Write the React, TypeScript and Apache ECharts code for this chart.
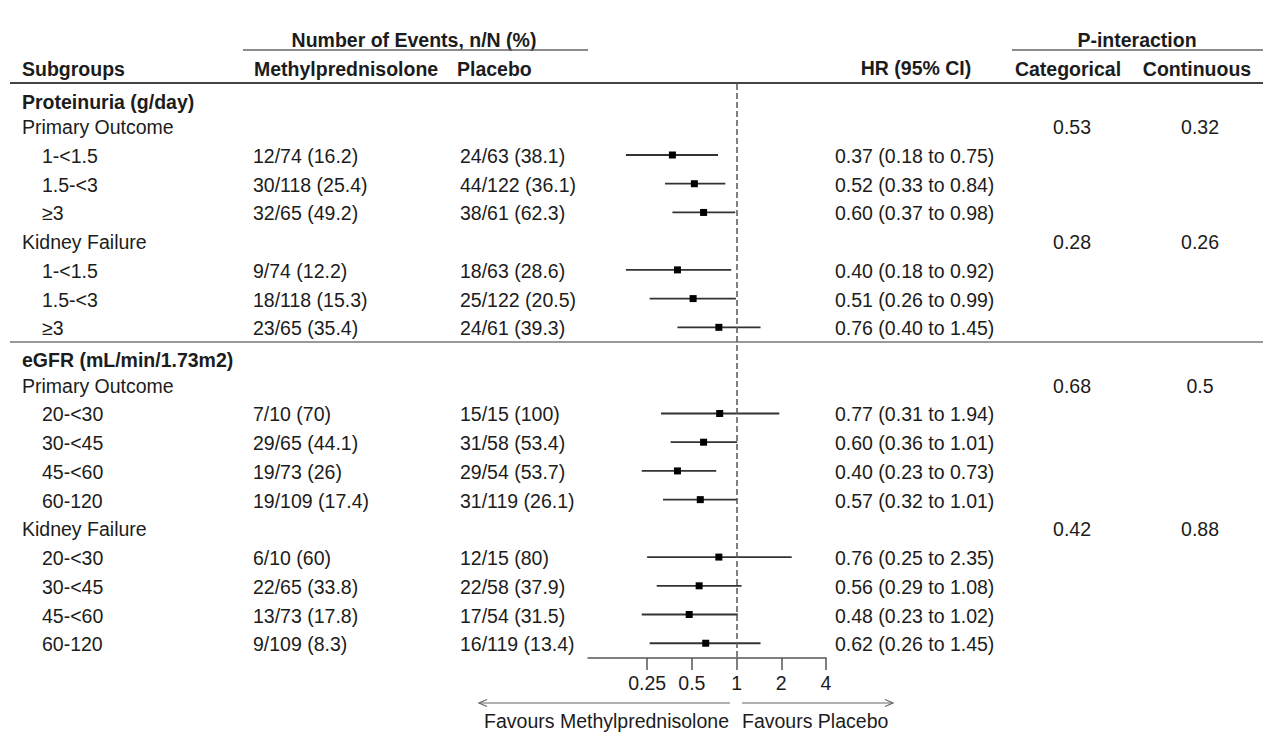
import React, { useEffect, useRef } from "react";
import * as echarts from "echarts";

const rowLabels = [
  "Proteinuria (g/day)", "Primary Outcome", "1-<1.5", "1.5-<3", "≥3",
  "Kidney Failure", "1-<1.5", "1.5-<3", "≥3",
  "eGFR (mL/min/1.73m2)", "Primary Outcome", "20-<30", "30-<45", "45-<60", "60-120",
  "Kidney Failure", "20-<30", "30-<45", "45-<60", "60-120",
];
const rowLevel = [0, 1, 2, 2, 2, 1, 2, 2, 2, 0, 1, 2, 2, 2, 2, 1, 2, 2, 2, 2];
const methylEvents = [
  "", "", "12/74 (16.2)", "30/118 (25.4)", "32/65 (49.2)",
  "", "9/74 (12.2)", "18/118 (15.3)", "23/65 (35.4)",
  "", "", "7/10 (70)", "29/65 (44.1)", "19/73 (26)", "19/109 (17.4)",
  "", "6/10 (60)", "22/65 (33.8)", "13/73 (17.8)", "9/109 (8.3)",
];
const placeboEvents = [
  "", "", "24/63 (38.1)", "44/122 (36.1)", "38/61 (62.3)",
  "", "18/63 (28.6)", "25/122 (20.5)", "24/61 (39.3)",
  "", "", "15/15 (100)", "31/58 (53.4)", "29/54 (53.7)", "31/119 (26.1)",
  "", "12/15 (80)", "22/58 (37.9)", "17/54 (31.5)", "16/119 (13.4)",
];
const hr = [null, null, 0.37, 0.52, 0.6, null, 0.4, 0.51, 0.76, null, null, 0.77, 0.6, 0.4, 0.57, null, 0.76, 0.56, 0.48, 0.62];
const ciLow = [null, null, 0.18, 0.33, 0.37, null, 0.18, 0.26, 0.4, null, null, 0.31, 0.36, 0.23, 0.32, null, 0.25, 0.29, 0.23, 0.26];
const ciHigh = [null, null, 0.75, 0.84, 0.98, null, 0.92, 0.99, 1.45, null, null, 1.94, 1.01, 0.73, 1.01, null, 2.35, 1.08, 1.02, 1.45];
const pCategorical = ["", "0.53", "", "", "", "0.28", "", "", "", "", "0.68", "", "", "", "", "0.42", "", "", "", ""];
const pContinuous = ["", "0.32", "", "", "", "0.26", "", "", "", "", "0.5", "", "", "", "", "0.88", "", "", "", ""];
const tickValues = [0.25, 0.5, 1, 2, 4];
const axisMin = 0.1;
const axisMax = 4;

const FONT = '"Liberation Sans", Arial, Helvetica, sans-serif';
const FS = 19.5;
const TXT = "#1c1c1c";

// layout
const ROW0 = 97.56;
const ROWH = 28.72;
const GRID_TOP = 84;
const GRID_BOTTOM = 658;
const GRID_LEFT = 588;
const GRID_RIGHT_X = 826;

const rowY = (r: number) => ROW0 + r * ROWH;

export default function App() {
  const ref = useRef<HTMLDivElement>(null);
  useEffect(() => {
    if (!ref.current) return;
    const chart = echarts.init(ref.current, null, { renderer: "svg" });
    const log2 = (v: number) => Math.log(v) / Math.LN2;

    const text = (x: number, y: number, s: string, opts: any = {}) => ({
      type: "text",
      x,
      y,
      silent: true,
      style: {
        text: s,
        fill: TXT,
        font: `${opts.bold ? "bold " : ""}${FS}px ${FONT}`,
        align: opts.align || "left",
        verticalAlign: "middle",
      },
    });
    const hline = (x1: number, x2: number, y: number, color: string, w: number) => ({
      type: "line",
      silent: true,
      shape: { x1, y1: y, x2, y2: y },
      style: { stroke: color, lineWidth: w },
    });

    const g: any[] = [];
    // headers
    g.push(text(414, 40, "Number of Events, n/N (%)", { bold: true, align: "center" }));
    g.push(hline(243, 588, 50, "#666", 1.5));
    g.push(text(1137, 39.5, "P-interaction", { bold: true, align: "center" }));
    g.push(hline(1012, 1263, 50, "#666", 1.5));
    g.push(text(22, 68.5, "Subgroups", { bold: true }));
    g.push(text(254, 68.5, "Methylprednisolone", { bold: true }));
    g.push(text(457, 68.5, "Placebo", { bold: true }));
    g.push(text(916, 67.5, "HR (95% CI)", { bold: true, align: "center" }));
    g.push(text(1068, 68.5, "Categorical", { bold: true, align: "center" }));
    g.push(text(1197, 68.5, "Continuous", { bold: true, align: "center" }));
    g.push(hline(10, 1263, 83, "#444", 2));
    g.push(hline(10, 1263, 342, "#777", 1.5));

    rowLabels.forEach((lab, r) => {
      const lvl = rowLevel[r];
      const y = rowY(r) + (lvl === 0 ? 4 : 1);
      g.push(text(lvl === 2 ? 42 : 22, y, lab, { bold: lvl === 0 }));
      if (methylEvents[r]) g.push(text(253, y, methylEvents[r]));
      if (placeboEvents[r]) g.push(text(460, y, placeboEvents[r]));
      if (hr[r] != null) {
        g.push(
          text(835, y, `${(hr[r] as number).toFixed(2)} (${(ciLow[r] as number).toFixed(2)} to ${(ciHigh[r] as number).toFixed(2)})`)
        );
      }
      if (pCategorical[r]) g.push(text(1072, y, pCategorical[r], { align: "center" }));
      if (pContinuous[r]) g.push(text(1200, y, pContinuous[r], { align: "center" }));
    });

    // arrows + favours labels
    const AY = 703;
    g.push(hline(479, 730, AY, "#666", 1.2));
    g.push({
      type: "polyline",
      silent: true,
      shape: { points: [[487, AY - 3.5], [479, AY], [487, AY + 3.5]] },
      style: { stroke: "#666", lineWidth: 1.2, fill: "none" },
    });
    g.push(hline(742, 893, AY, "#666", 1.2));
    g.push({
      type: "polyline",
      silent: true,
      shape: { points: [[885, AY - 3.5], [893, AY], [885, AY + 3.5]] },
      style: { stroke: "#666", lineWidth: 1.2, fill: "none" },
    });
    g.push(text(729, 720.5, "Favours Methylprednisolone", { align: "right" }));
    g.push(text(742, 720.5, "Favours Placebo"));

    const data: any[] = [];
    hr.forEach((v, r) => {
      if (v == null) return;
      data.push([log2(v), r, log2(ciLow[r] as number), log2(ciHigh[r] as number)]);
    });

    const yMin = (GRID_TOP - ROW0) / ROWH;
    const yMax = (GRID_BOTTOM - ROW0) / ROWH;

    chart.setOption({
      animation: false,
      backgroundColor: "#ffffff",
      grid: {
        left: GRID_LEFT,
        top: GRID_TOP,
        width: GRID_RIGHT_X - GRID_LEFT,
        height: GRID_BOTTOM - GRID_TOP,
        containLabel: false,
      },
      xAxis: {
        type: "value",
        position: "bottom",
        min: log2(axisMin),
        max: log2(axisMax),
        splitLine: { show: false },
        axisLine: { show: true, onZero: false, lineStyle: { color: "#555", width: 1.5 } },
        axisTick: {
          show: true,
          length: 12,
          customValues: tickValues.map(log2),
          lineStyle: { color: "#555", width: 1.5 },
        },
        axisLabel: {
          show: true,
          customValues: tickValues.map(log2),
          margin: 15,
          color: TXT,
          fontSize: FS,
          fontFamily: FONT,
          formatter: (v: number) => String(Math.round(Math.pow(2, v) * 100) / 100),
        },
      },
      yAxis: {
        type: "value",
        inverse: true,
        min: yMin,
        max: yMax,
        show: false,
      },
      series: [
        {
          type: "custom",
          data,
          encode: { x: [0, 2, 3], y: 1 },
          clip: false,
          renderItem: (params: any, api: any) => {
            const c = api.coord([api.value(0), api.value(1)]);
            const a = api.coord([api.value(2), api.value(1)]);
            const b = api.coord([api.value(3), api.value(1)]);
            return {
              type: "group",
              children: [
                {
                  type: "line",
                  shape: { x1: a[0], y1: a[1], x2: b[0], y2: b[1] },
                  style: { stroke: "#333", lineWidth: 1.8 },
                },
                {
                  type: "rect",
                  shape: { x: c[0] - 3.5, y: c[1] - 3.5, width: 7, height: 7 },
                  style: { fill: "#000" },
                },
              ],
            };
          },
          markLine: {
            silent: true,
            symbol: ["none", "none"],
            label: { show: false },
            lineStyle: { type: [6, 3], color: "#555", width: 1.5 },
            data: [{ xAxis: 0 }],
          },
        },
      ],
      graphic: g,
    });
    return () => chart.dispose();
  }, []);
  return (
    <div
      ref={ref}
      style={{ position: "fixed", left: 0, top: 0, width: 1269, height: 743, background: "#fff" }}
    />
  );
}
